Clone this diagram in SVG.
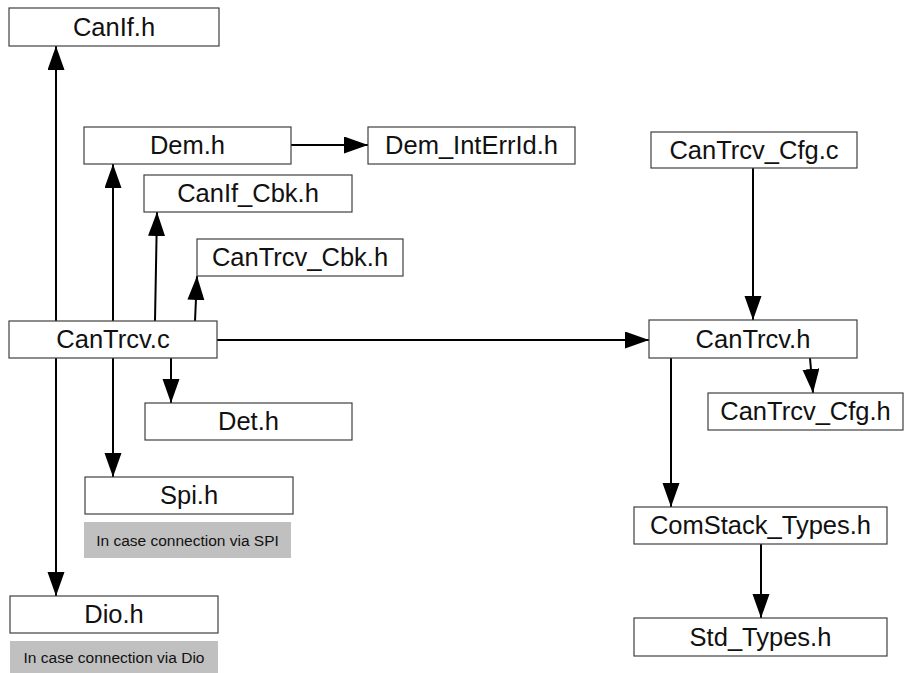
<svg xmlns="http://www.w3.org/2000/svg" width="907" height="673" viewBox="0 0 907 673">
  <style>
    .box { fill: #ffffff; stroke: #404040; stroke-width: 1.2; }
    .note { fill: #c0c0c0; stroke: none; }
    .lbl { font-family: "Liberation Sans", Arial, sans-serif; font-size: 25.5px; fill: #111111; text-anchor: middle; }
    .small { font-family: "Liberation Sans", Arial, sans-serif; font-size: 15.5px; fill: #111111; text-anchor: middle; }
    .edge { stroke: #000000; stroke-width: 2; fill: none; }
  </style>
  <defs>
    <marker id="arrow" markerUnits="userSpaceOnUse" markerWidth="26" markerHeight="18" refX="24" refY="8.5" orient="auto" viewBox="0 0 26 18">
      <path d="M0,0 L24,8.5 L0,17 Z" fill="#000000"/>
    </marker>
  </defs>
  <rect width="907" height="673" fill="#ffffff"/>

  <g id="connectors">
    <line class="edge" x1="56" y1="321" x2="56" y2="46" marker-end="url(#arrow)"/>
    <line class="edge" x1="113" y1="321" x2="113" y2="164" marker-end="url(#arrow)"/>
    <line class="edge" x1="155" y1="321" x2="157" y2="212" marker-end="url(#arrow)"/>
    <line class="edge" x1="195" y1="321" x2="197" y2="276" marker-end="url(#arrow)"/>
    <line class="edge" x1="291" y1="145" x2="368" y2="145" marker-end="url(#arrow)"/>
    <line class="edge" x1="217" y1="340" x2="649" y2="340" marker-end="url(#arrow)"/>
    <line class="edge" x1="171" y1="358" x2="171" y2="403" marker-end="url(#arrow)"/>
    <line class="edge" x1="113" y1="358" x2="113" y2="477" marker-end="url(#arrow)"/>
    <line class="edge" x1="56" y1="358" x2="56" y2="596" marker-end="url(#arrow)"/>
    <line class="edge" x1="753" y1="168" x2="753" y2="320" marker-end="url(#arrow)"/>
    <line class="edge" x1="810" y1="358" x2="813" y2="393" marker-end="url(#arrow)"/>
    <line class="edge" x1="671" y1="358" x2="671" y2="507" marker-end="url(#arrow)"/>
    <line class="edge" x1="761" y1="544" x2="761" y2="618" marker-end="url(#arrow)"/>
  </g>

  <g id="canif_h"><rect class="box" x="9" y="8" width="210" height="38"/><text class="lbl" x="114" y="36">CanIf.h</text></g>
  <g id="dem_h"><rect class="box" x="84" y="127" width="207" height="37"/><text class="lbl" x="187.5" y="154">Dem.h</text></g>
  <g id="dem_interrid_h"><rect class="box" x="368" y="127" width="207" height="37"/><text class="lbl" x="471.5" y="154">Dem_IntErrId.h</text></g>
  <g id="canif_cbk_h"><rect class="box" x="144" y="175" width="208" height="37"/><text class="lbl" x="248" y="202">CanIf_Cbk.h</text></g>
  <g id="cantrcv_cbk_h"><rect class="box" x="197" y="239" width="206" height="37"/><text class="lbl" x="300" y="266">CanTrcv_Cbk.h</text></g>
  <g id="cantrcv_c"><rect class="box" x="9" y="321" width="208" height="37"/><text class="lbl" x="113" y="348">CanTrcv.c</text></g>
  <g id="det_h"><rect class="box" x="145" y="403" width="207" height="37"/><text class="lbl" x="248.5" y="430">Det.h</text></g>
  <g id="spi_h"><rect class="box" x="85" y="477" width="208" height="37"/><text class="lbl" x="189" y="504">Spi.h</text></g>
  <g id="spi_note"><rect class="note" x="84" y="522" width="207" height="36"/><text class="small" x="187.5" y="546">In case connection via SPI</text></g>
  <g id="dio_h"><rect class="box" x="10" y="596" width="208" height="37"/><text class="lbl" x="114" y="623">Dio.h</text></g>
  <g id="dio_note"><rect class="note" x="10" y="641" width="208" height="32"/><text class="small" x="114" y="663">In case connection via Dio</text></g>
  <g id="cantrcv_cfg_c"><rect class="box" x="651" y="132" width="206" height="36"/><text class="lbl" x="754" y="159">CanTrcv_Cfg.c</text></g>
  <g id="cantrcv_h"><rect class="box" x="649" y="320" width="208" height="38"/><text class="lbl" x="753" y="348">CanTrcv.h</text></g>
  <g id="cantrcv_cfg_h"><rect class="box" x="708" y="393" width="195" height="37"/><text class="lbl" x="805.5" y="420">CanTrcv_Cfg.h</text></g>
  <g id="comstack_types_h"><rect class="box" x="634" y="507" width="253" height="37"/><text class="lbl" x="760.5" y="534">ComStack_Types.h</text></g>
  <g id="std_types_h"><rect class="box" x="634" y="618" width="253" height="38"/><text class="lbl" x="760.5" y="646">Std_Types.h</text></g>
</svg>
